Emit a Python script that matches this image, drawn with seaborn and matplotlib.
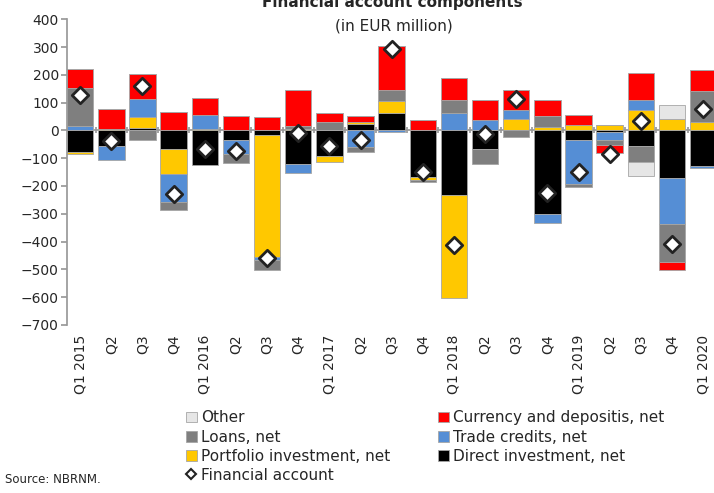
import matplotlib
matplotlib.use("Agg")
import matplotlib.pyplot as plt
from matplotlib.patches import Patch
from matplotlib.lines import Line2D
import numpy as np
import pandas as pd
import seaborn as sns

quarters = ["Q1 2015", "Q2", "Q3", "Q4", "Q1 2016", "Q2", "Q3", "Q4",
            "Q1 2017", "Q2", "Q3", "Q4", "Q1 2018", "Q2", "Q3", "Q4",
            "Q1 2019", "Q2", "Q3", "Q4", "Q1 2020"]

# components, EUR million
direct = [-78, -56, 8, -66, -126, -36, -16, -122, -94, 24, 64, -168,
          -234, -66, 0, -300, -36, -5, -56, -170, -130]
portfolio = [-8, 5, 40, -92, 6, 0, -438, 4, -20, 5, 42, -10,
             -370, 0, 40, 12, 18, 20, 72, 40, 30]
trade = [15, -52, 66, -100, 50, -50, -12, -31, 0, -60, -5, 0,
         62, 36, 32, -34, -156, -28, 38, -168, -5]
loans = [139, 0, -34, -30, 0, -32, -38, 12, 30, -18, 40, -8,
         48, -54, -24, 40, -12, -18, -58, -136, 110]
currency = [68, 73, 90, 66, 60, 50, 48, 130, 32, 22, 157, 36,
            80, 72, 72, 56, 36, -30, 96, -28, 78]
other = [0, 0, 0, 0, 0, 0, 0, 0, 0, 0, 0, 0,
         0, 0, 0, 0, 0, 0, -50, 52, 0]
fin_account = [126, -40, 158, -230, -67, -74, -458, -10, -58, -36, 292, -148,
               -414, -12, 114, -226, -150, -84, 34, -410, 78]

series = [
    ("Direct investment, net", direct, "#000000"),
    ("Portfolio investment, net", portfolio, "#FFC800"),
    ("Trade credits, net", trade, "#558ED5"),
    ("Loans, net", loans, "#7F7F7F"),
    ("Currency and depositis, net", currency, "#FF0000"),
    ("Other", other, "#E6E6E6"),
]

sns.set_theme(style="white")
plt.rcParams["font.family"] = ["DejaVu Sans"]

fig = plt.figure(figsize=(7.14, 4.93), dpi=100)
ax = fig.add_axes([0.094, 0.341, 0.906, 0.62])

x = np.arange(len(quarters))
pos_base = np.zeros(len(x))
neg_base = np.zeros(len(x))
for name, vals, col in series:
    v = np.array(vals, dtype=float)
    bottom = np.where(v >= 0, pos_base, neg_base)
    ax.bar(x, v, bottom=bottom, width=0.85, color=col,
           edgecolor="#A6A6A6", linewidth=0.6, zorder=2)
    pos_base += np.where(v >= 0, v, 0)
    neg_base += np.where(v < 0, v, 0)

fa = pd.DataFrame({"x": x, "fa": fin_account})
sns.scatterplot(data=fa, x="x", y="fa", marker="D", s=70, color="white",
                edgecolor="#222222", linewidth=2, zorder=4, ax=ax, legend=False)

ax.set_ylim(-700, 400)
ax.set_xlim(-0.42, 20.35)
ax.set_yticks(np.arange(-700, 401, 100))
ax.tick_params(axis="y", labelsize=10, length=4, color="#999999",
               direction="out", left=True, pad=2)
for s in ["top", "right"]:
    ax.spines[s].set_visible(False)
ax.spines["left"].set_color("#999999")

# zero line with boundary ticks
ax.spines["bottom"].set_position(("data", 0))
ax.spines["bottom"].set_color("#999999")
ax.spines["bottom"].set_zorder(1)
ax.set_xticks(x[:-1] + 0.5)
ax.set_xticklabels([])
ax.tick_params(axis="x", bottom=True, length=4, color="#999999", direction="inout")
ax.set_xlabel("")
ax.set_ylabel("")

sec = ax.secondary_xaxis(0)
sec.set_xticks(x)
sec.set_xticklabels(quarters, rotation=90, fontsize=10)
sec.tick_params(length=0, pad=7)
sec.spines["bottom"].set_visible(False)

fig.text(0.549, 0.986, "Financial account components", ha="center",
         va="baseline", fontsize=11, weight="bold")
fig.text(0.551, 0.939, "(in EUR million)", ha="center", va="baseline", fontsize=11)
fig.text(0.007, 0.02, "Source: NBRNM.", fontsize=8.5)

colors = {n: c for n, _, c in series}
def box(n):
    return Patch(facecolor=colors[n], edgecolor="#A6A6A6", linewidth=0.6)
handles = [box("Other"), box("Loans, net"), box("Portfolio investment, net"),
           Line2D([], [], marker="D", linestyle="none", markersize=5,
                  markerfacecolor="white", markeredgecolor="#222222", markeredgewidth=1.5),
           box("Currency and depositis, net"), box("Trade credits, net"),
           box("Direct investment, net")]
labels = ["Other", "Loans, net", "Portfolio investment, net", "Financial account",
          "Currency and depositis, net", "Trade credits, net", "Direct investment, net"]
fig.legend(handles, labels, ncol=2, loc="upper left", bbox_to_anchor=(0.25, 0.183),
           frameon=False, fontsize=11, handlelength=0.7, handleheight=0.7,
           handletextpad=0.3, columnspacing=3.1, labelspacing=0.27, borderpad=0)

fig.savefig("out.png", dpi=100)
